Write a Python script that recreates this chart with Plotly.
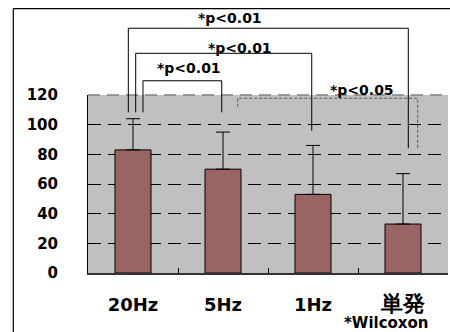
import plotly.graph_objects as go

categories = ["20Hz", "5Hz", "1Hz", "単発"]
means = [83, 70, 53, 33]
err_up = [21, 25, 33, 34]

y_ticks = [0, 20, 40, 60, 80, 100, 120]

# significance brackets: (left category, right category)
sig_left = ["20Hz", "20Hz", "20Hz", "5Hz"]
sig_right = ["単発", "1Hz", "5Hz", "単発"]
sig_left_off = [-0.052, 0.030, 0.111, 0.163]
sig_right_off = [0.059, -0.014, -0.014, 0.163]
sig_top = [165.0, 148.1, 129.6, 117.8]
sig_left_end = [108.3, 108.3, 108.3, 112.1]
sig_right_end = [84.1, 95.9, 108.3, 83.4]
sig_dotted = [False, False, False, True]
sig_text = ["*p<0.01", "*p<0.01", "*p<0.01", "*p<0.05"]
sig_text_x = [1.078, 1.189, 0.622, 2.544]
sig_text_y = [171.9, 151.7, 138.2, 123.4]

W, H = 450, 332
ML, MR, MT, MB = 88, 2, 95, 59
YMAX = 120
ncat = len(categories)
pw = W - ML - MR
ph = H - MT - MB

def px_x(xd):
    return (xd + 0.5) / ncat

def px_y(yd):
    return yd / YMAX

def page_x(p):
    return (p - ML) / pw

def page_y(p):
    return (H - MB - p) / ph

fig = go.Figure()
fig.add_trace(go.Bar(
    x=categories, y=means,
    marker=dict(color="#9A6464", line=dict(color="black", width=1)),
    error_y=dict(type="data", array=err_up, arrayminus=[0] * len(err_up),
                 symmetric=False, color="black", thickness=1, width=7),
))

shapes = []
annotations = []
# dashed top border of plot area
shapes.append(dict(type="line", xref="paper", yref="paper", x0=0, x1=1, y0=1, y1=1,
                   line=dict(color="#808080", width=1.5, dash="12px,7px"), layer="below"))
for i in range(len(sig_left)):
    xl = categories.index(sig_left[i]) + sig_left_off[i]
    xr = categories.index(sig_right[i]) + sig_right_off[i]
    if sig_dotted[i]:
        line = dict(color="#555555", width=1, dash="3px,2px")
    else:
        line = dict(color="black", width=1)
    path = (f"M {px_x(xl)} {px_y(sig_left_end[i])} L {px_x(xl)} {px_y(sig_top[i])} "
            f"L {px_x(xr)} {px_y(sig_top[i])} L {px_x(xr)} {px_y(sig_right_end[i])}")
    shapes.append(dict(type="path", xref="paper", yref="paper", path=path, line=line))
    annotations.append(dict(x=px_x(sig_text_x[i]), y=px_y(sig_text_y[i]),
                            xref="paper", yref="paper", text=sig_text[i], showarrow=False,
                            xanchor="center", yanchor="middle",
                            font=dict(family="DejaVu Sans", size=14, color="black", weight="bold")))

# outer frame (left and top edges)
fx = page_x(13.3)
fy = page_y(8.6)
shapes.append(dict(type="line", xref="paper", yref="paper", x0=fx, x1=fx, y0=-1, y1=fy,
                   line=dict(color="black", width=1.2)))
shapes.append(dict(type="line", xref="paper", yref="paper", x0=fx, x1=1.2, y0=fy, y1=fy,
                   line=dict(color="black", width=1.2)))

annotations.append(dict(x=page_x(431), y=page_y(323), xref="paper", yref="paper",
                        text="*Wilcoxon", showarrow=False, xanchor="right", yanchor="middle",
                        font=dict(family="DejaVu Sans", size=15, color="black", weight="bold")))

ticktext = [c if c.isascii() else f"<span style='font-size:22px'>{c}</span>" for c in categories]

fig.update_layout(
    width=W, height=H,
    margin=dict(l=ML, r=MR, t=MT, b=MB, pad=0),
    paper_bgcolor="white", plot_bgcolor="#C0C0C0",
    showlegend=False, bargap=0.6,
    shapes=shapes, annotations=annotations,
    xaxis=dict(type="category", tickvals=categories, ticktext=ticktext,
               tickson="boundaries", ticks="inside", ticklen=5, tickcolor="black",
               showgrid=False, showline=True, linecolor="#333333", linewidth=2,
               ticklabelstandoff=14,
               tickfont=dict(family="DejaVu Sans", size=18, color="black", weight="bold")),
    yaxis=dict(range=[0, YMAX], tickvals=y_ticks, showgrid=True, gridcolor="black",
               gridwidth=1, griddash="13px,7px", zeroline=False,
               showline=True, linecolor="black", linewidth=1, ticks="",
               ticklabelstandoff=26,
               tickfont=dict(family="DejaVu Sans", size=15, color="black", weight="bold")),
)

fig.write_html(
    "out.html",
    config={"displayModeBar": False},
    post_script="document.body.style.margin='0';document.documentElement.style.overflow='hidden';document.body.style.overflow='hidden';",
)
